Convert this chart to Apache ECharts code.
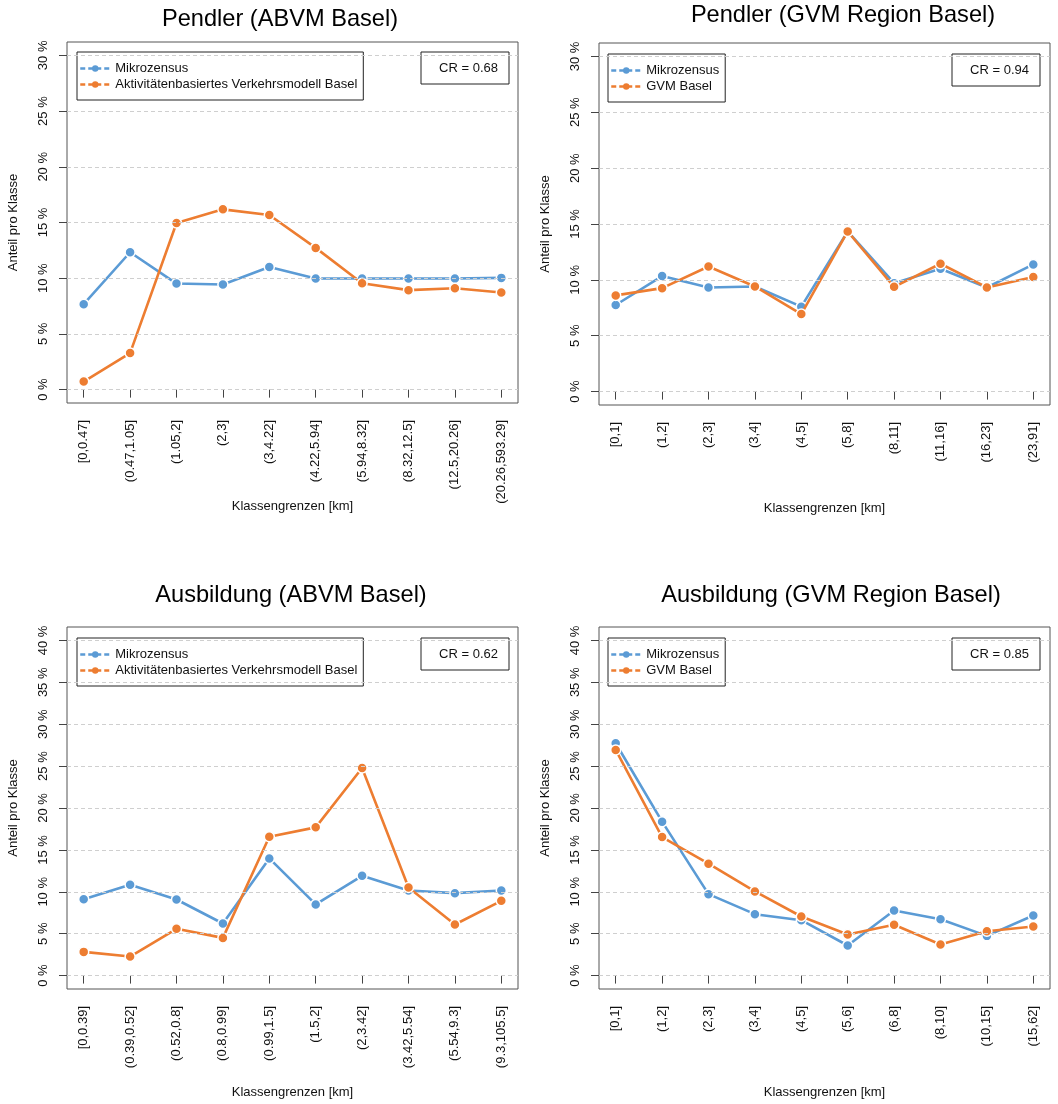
<!DOCTYPE html>
<html>
<head>
<meta charset="utf-8">
<script src="https://cdn.jsdelivr.net/npm/echarts@6/dist/echarts.min.js"></script>
<style>
html,body{margin:0;padding:0;background:#fff;}
#chart{width:1058px;height:1104px;}
</style>
</head>
<body>
<div id="chart"></div>
<script>
// ---- data ----
const titles = ['Pendler (ABVM Basel)', 'Pendler (GVM Region Basel)', 'Ausbildung (ABVM Basel)', 'Ausbildung (GVM Region Basel)'];
const crTexts = ['CR = 0.68', 'CR = 0.94', 'CR = 0.62', 'CR = 0.85'];
const refName = 'Mikrozensus';
const modelNames = ['Aktivitätenbasiertes Verkehrsmodell Basel', 'GVM Basel', 'Aktivitätenbasiertes Verkehrsmodell Basel', 'GVM Basel'];

const cats1 = ['[0,0.47]', '(0.47,1.05]', '(1.05,2]', '(2,3]', '(3,4.22]', '(4.22,5.94]', '(5.94,8.32]', '(8.32,12.5]', '(12.5,20.26]', '(20.26,593.29]'];
const cats2 = ['[0,1]', '(1,2]', '(2,3]', '(3,4]', '(4,5]', '(5,8]', '(8,11]', '(11,16]', '(16,23]', '(23,91]'];
const cats3 = ['[0,0.39]', '(0.39,0.52]', '(0.52,0.8]', '(0.8,0.99]', '(0.99,1.5]', '(1.5,2]', '(2,3.42]', '(3.42,5.54]', '(5.54,9.3]', '(9.3,105.5]'];
const cats4 = ['[0,1]', '(1,2]', '(2,3]', '(3,4]', '(4,5]', '(5,6]', '(6,8]', '(8,10]', '(10,15]', '(15,62]'];

const mz1 = [7.67, 12.33, 9.52, 9.43, 11.01, 9.97, 9.97, 9.97, 9.97, 10.03];
const md1 = [0.72, 3.28, 14.96, 16.18, 15.67, 12.72, 9.55, 8.93, 9.10, 8.72];
const mz2 = [7.75, 10.34, 9.32, 9.41, 7.60, 14.33, 9.70, 10.99, 9.32, 11.38];
const md2 = [8.61, 9.26, 11.20, 9.41, 6.94, 14.33, 9.38, 11.44, 9.32, 10.25];
const mz3 = [9.12, 10.84, 9.08, 6.22, 13.98, 8.49, 11.91, 10.16, 9.84, 10.16];
const md3 = [2.83, 2.27, 5.58, 4.50, 16.57, 17.69, 24.78, 10.52, 6.10, 8.92];
const mz4 = [27.73, 18.37, 9.72, 7.33, 6.61, 3.59, 7.77, 6.73, 4.74, 7.17];
const md4 = [26.93, 16.53, 13.35, 10.04, 7.05, 4.90, 6.06, 3.71, 5.30, 5.86];

const yTicksPendler = [0, 5, 10, 15, 20, 25, 30];
const yTicksAusb = [0, 5, 10, 15, 20, 25, 30, 35, 40];

const xTitle = 'Klassengrenzen [km]';
const yTitle = 'Anteil pro Klasse';

// ---- layout / style ----
const FONT = '"Liberation Sans", Arial, Helvetica, sans-serif';
const BLUE = '#5B9BD5';
const ORANGE = '#ED7D31';

const panels = [
  {cats: cats1, mz: mz1, md: md1, yTicks: yTicksPendler, grid: {left: 67, top: 42, width: 451, height: 361}, title: [280, 19], legend: [77, 52], cr: [421, 52]},
  {cats: cats2, mz: mz2, md: md2, yTicks: yTicksPendler, grid: {left: 599, top: 43, width: 451, height: 362}, title: [843, 15], legend: [608, 54], cr: [952, 54]},
  {cats: cats3, mz: mz3, md: md3, yTicks: yTicksAusb, grid: {left: 67, top: 627, width: 451, height: 362}, title: [291, 595], legend: [77, 638], cr: [421, 638]},
  {cats: cats4, mz: mz4, md: md4, yTicks: yTicksAusb, grid: {left: 599, top: 627, width: 451, height: 362}, title: [831, 595], legend: [608, 638], cr: [952, 638]}
];

const grids = [], xAxes = [], yAxes = [], series = [], legends = [], graphics = [];

panels.forEach(function (p, i) {
  const n = p.cats.length;
  const xIdx = [];
  for (let k = 1; k <= n; k++) xIdx.push(k);
  const xPad = (n - 1) * 0.04;
  const yMaxTick = p.yTicks[p.yTicks.length - 1];
  const yPad = yMaxTick * 0.04;

  grids.push(Object.assign({show: true, borderColor: '#555', borderWidth: 1, backgroundColor: 'transparent'}, p.grid));

  xAxes.push({
    type: 'value', gridIndex: i, min: 1 - xPad, max: n + xPad,
    axisLine: {show: false},
    splitLine: {show: false},
    axisTick: {show: true, customValues: xIdx, length: 8, lineStyle: {color: '#444'}},
    axisLabel: {
      customValues: xIdx, rotate: 90, margin: 17, color: '#111', fontSize: 13, fontFamily: FONT,
      formatter: function (v) { return p.cats[Math.round(v) - 1]; }
    },
    name: xTitle, nameLocation: 'middle', nameGap: 97, nameMoveOverlap: false,
    nameTextStyle: {fontSize: 13, color: '#111', fontFamily: FONT}
  });

  yAxes.push({
    type: 'value', gridIndex: i, min: -yPad, max: yMaxTick + yPad,
    axisLine: {show: false},
    splitLine: {show: false},
    axisTick: {show: true, customValues: p.yTicks, length: 8, lineStyle: {color: '#444'}},
    axisLabel: {
      customValues: p.yTicks, rotate: 90, margin: 17, color: '#111', fontSize: 13, fontFamily: FONT,
      formatter: function (v) { return v + ' %'; }
    },
    name: yTitle, nameLocation: 'middle', nameGap: 47, nameMoveOverlap: false,
    nameTextStyle: {fontSize: 13, color: '#111', fontFamily: FONT}
  });

  // gridlines via a background series
  series.push({
    type: 'line', name: '_grid' + i, xAxisIndex: i, yAxisIndex: i, data: [], z: 1, silent: true,
    markLine: {
      silent: true, symbol: 'none', animation: false,
      label: {show: false},
      lineStyle: {color: '#cfcfcf', type: [4, 3], width: 1},
      data: p.yTicks.map(function (t) { return {yAxis: t}; })
    }
  });

  const mk = function (name, vals, color, z) {
    return {
      type: 'line', name: name, xAxisIndex: i, yAxisIndex: i, z: z,
      data: vals.map(function (v, k) { return [k + 1, v]; }),
      symbol: 'circle', symbolSize: 10,
      lineStyle: {color: color, width: 2.6},
      itemStyle: {color: color, borderColor: '#fff', borderWidth: 1.5},
      emphasis: {disabled: true},
      animation: false
    };
  };
  series.push(mk(refName, p.mz, BLUE, 3));
  series.push(mk(modelNames[i], p.md, ORANGE, 4));

  legends.push({
    show: true, orient: 'vertical', left: p.legend[0], top: p.legend[1],
    data: [refName, modelNames[i]],
    selectedMode: false,
    borderColor: '#222', borderWidth: 1, borderRadius: 0,
    padding: [10, 6, 9, 2], itemGap: 3, itemWidth: 30, itemHeight: 8,
    textStyle: {fontSize: 13, color: '#111', fontFamily: FONT},
    lineStyle: {type: [5, 3], width: 2.5},
    itemStyle: {borderWidth: 0}
  });

  graphics.push({
    type: 'text', x: p.title[0], y: p.title[1],
    style: {text: titles[i], fontSize: 23.6, fontFamily: FONT, fill: '#000', textAlign: 'center', textVerticalAlign: 'middle'}
  });
  graphics.push({
    type: 'rect', x: p.cr[0], y: p.cr[1], shape: {x: 0, y: 0, width: 88, height: 32},
    style: {fill: '#fff', stroke: '#222', lineWidth: 1}
  });
  graphics.push({
    type: 'text', x: p.cr[0] + 77, y: p.cr[1] + 16,
    style: {text: crTexts[i], fontSize: 13, fontFamily: FONT, fill: '#111', textAlign: 'right', textVerticalAlign: 'middle'}
  });
});

const chart = echarts.init(document.getElementById('chart'), null, {renderer: 'canvas'});
chart.setOption({
  animation: false,
  backgroundColor: '#fff',
  textStyle: {fontFamily: FONT},
  grid: grids,
  xAxis: xAxes,
  yAxis: yAxes,
  legend: legends,
  series: series,
  graphic: graphics
});
</script>
</body>
</html>
